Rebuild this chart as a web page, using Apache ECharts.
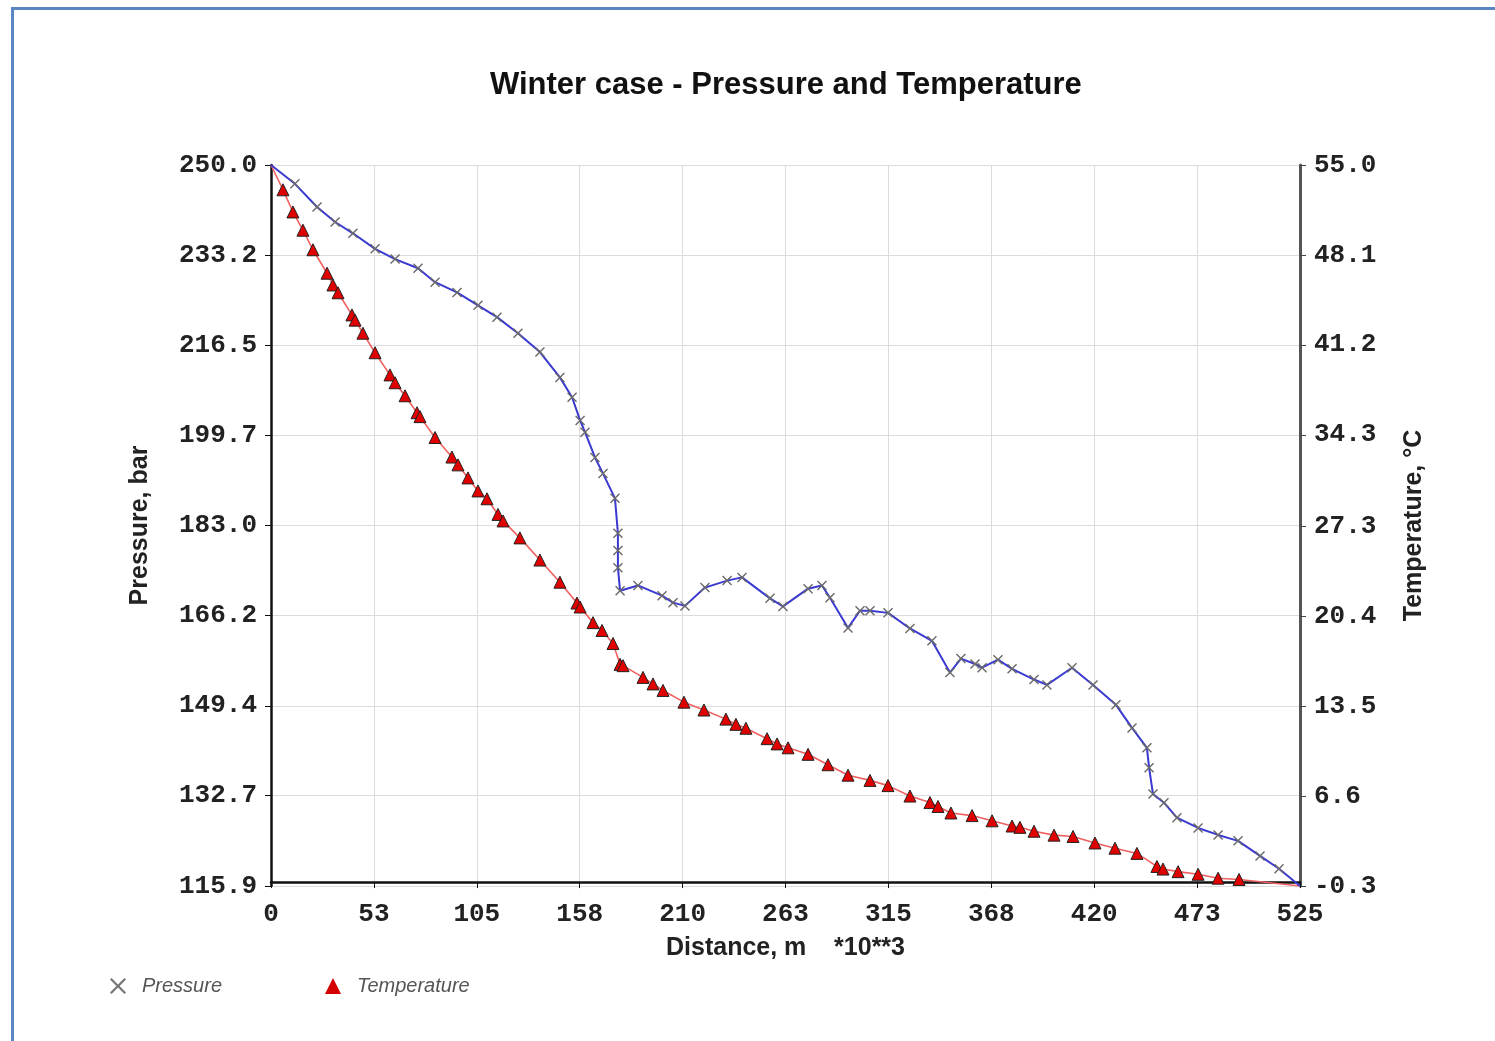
<!DOCTYPE html>
<html>
<head>
<meta charset="utf-8">
<title>Winter case - Pressure and Temperature</title>
<script src="https://cdn.jsdelivr.net/npm/echarts@6.0.0/dist/echarts.min.js"></script>
<style>
    html, body { margin: 0; padding: 0; background: #fff; overflow: hidden; }
    #chart { position: absolute; left: 0; top: 0; width: 1495px; height: 1041px; }
    #frame {
        position: absolute; left: 11px; top: 7px; width: 1600px; height: 1100px;
        border: 3px solid #5a86c4; pointer-events: none;
    }
</style>
</head>
<body>
<div id="chart"></div>
<div id="frame"></div>
<script>
// distance along the line, km (*10**3 m)
const pressureDist = [0, 12.2, 23.5, 32.7, 41.8, 53.1, 63.3, 75.0, 83.7, 94.9, 105.6, 115.3, 126.0, 137.2, 147.4,
    153.6, 157.7, 160.2, 165.3, 169.4, 175.5, 177.0, 177.0, 177.0, 178.1, 187.2, 199.5, 205.1, 211.2, 221.4,
    232.7, 240.3, 254.6, 261.2, 274.0, 281.1, 285.2, 294.4, 300.5, 305.6, 314.8, 326.0, 337.2, 346.4, 352.0,
    359.2, 362.8, 370.9, 378.1, 389.3, 395.9, 408.7, 419.4, 431.1, 439.3, 446.9, 448.0, 450.0, 455.6, 462.2,
    473.0, 483.2, 493.4, 504.6, 514.3, 525];
// pressure, bar
const pressureValues = [250, 246.5, 242.2, 239.4, 237.3, 234.4, 232.5, 230.8, 228.2, 226.3, 223.9, 221.7, 218.7, 215.2, 210.5,
    206.8, 202.5, 200.3, 195.6, 192.6, 188.0, 181.5, 178.3, 175.1, 170.8, 171.8, 169.9, 168.6, 168.0, 171.4,
    172.7, 173.3, 169.4, 167.9, 171.2, 171.8, 169.5, 163.9, 167.1, 167.1, 166.7, 163.8, 161.5, 155.6, 158.2,
    157.2, 156.5, 158.0, 156.3, 154.3, 153.3, 156.5, 153.3, 149.6, 145.3, 141.6, 137.9, 133.0, 131.4, 128.6,
    126.7, 125.4, 124.3, 121.5, 119.1, 115.9];

const tempDist = [0, 6.1, 11.2, 16.3, 21.4, 28.6, 31.6, 34.2, 41.3, 42.9, 46.9, 53.1, 60.7, 63.3, 68.4, 74.5, 76.0,
    83.7, 92.3, 95.4, 100.5, 105.6, 110.2, 115.8, 118.4, 127.0, 137.2, 147.4, 156.1, 157.7, 164.3, 168.9, 174.5,
    178.1, 179.6, 189.8, 194.9, 200.0, 210.7, 220.9, 232.1, 237.2, 242.3, 253.1, 258.2, 263.8, 274.0, 284.2,
    294.4, 305.6, 314.8, 326.0, 336.2, 340.3, 346.9, 357.7, 367.9, 378.1, 382.1, 389.3, 399.5, 409.2, 420.4,
    430.6, 441.8, 452.0, 455.1, 462.8, 473.0, 483.2, 493.9, 525];
// temperature, °C
const tempValues = [55.0, 53.1, 51.4, 50.0, 48.5, 46.7, 45.8, 45.2, 43.5, 43.1, 42.1, 40.6, 38.9, 38.3, 37.3, 36.0, 35.7,
    34.1, 32.6, 32.0, 31.0, 30.0, 29.4, 28.2, 27.7, 26.4, 24.7, 23.0, 21.4, 21.1, 19.9, 19.3, 18.3,
    16.7, 16.6, 15.7, 15.2, 14.7, 13.8, 13.2, 12.5, 12.1, 11.8, 11.0, 10.6, 10.3, 9.8, 9.0,
    8.2, 7.8, 7.4, 6.6, 6.1, 5.8, 5.3, 5.1, 4.7, 4.3, 4.2, 3.9, 3.6, 3.5, 3.0,
    2.6, 2.2, 1.2, 1.0, 0.8, 0.6, 0.3, 0.2, -0.3];

// tick values of the three axes
const distanceTicks = [0, 52.5, 105, 157.5, 210, 262.5, 315, 367.5, 420, 472.5, 525];
const pressureTicks = [115.9, 132.7, 149.4, 166.2, 183.0, 199.7, 216.5, 233.2, 250.0];
const tempTicks = [-0.3, 6.6, 13.5, 20.4, 27.3, 34.3, 41.2, 48.1, 55.0];

const crossIcon = 'path://M0,1L1,0L5,4L9,0L10,1L6,5L10,9L9,10L5,6L1,10L0,9L4,5Z';

// first and last point carry no marker
function toPoints(xs, ys) {
    return xs.map((x, i) => {
        const item = { value: [x, ys[i]] };
        if (i === 0 || i === xs.length - 1) item.symbol = 'none';
        return item;
    });
}

const tickFont = { fontFamily: 'Liberation Mono', fontWeight: 'bold', fontSize: 26, color: '#222' };
const nameFont = { fontFamily: 'Liberation Sans', fontWeight: 'bold', fontSize: 25, color: '#222' };

const chart = echarts.init(document.getElementById('chart'));
chart.setOption({
    animation: false,
    title: {
        text: 'Winter case - Pressure and Temperature',
        left: 485,
        top: 65,
        textStyle: { fontFamily: 'Liberation Sans', fontWeight: 'bold', fontSize: 31, color: '#111' }
    },
    legend: {
        left: 105,
        top: 971,
        itemWidth: 16,
        itemHeight: 16,
        itemGap: 103,
        textStyle: { fontFamily: 'Liberation Sans', fontStyle: 'italic', fontSize: 20, color: '#555', padding: [0, 0, 0, 11] },
        data: [
            { name: 'Pressure', icon: crossIcon, itemStyle: { color: '#777' } },
            { name: 'Temperature', icon: 'triangle', itemStyle: { color: '#d40000', borderWidth: 0 } }
        ]
    },
    grid: { left: 271, right: 195, top: 165, bottom: 155 },
    xAxis: {
        type: 'value',
        min: 0,
        max: 525,
        name: 'Distance, m    *10**3',
        nameLocation: 'middle',
        nameGap: 50,
        nameTextStyle: nameFont,
        axisLine: { lineStyle: { color: '#111', width: 2.5 } },
        axisTick: { customValues: distanceTicks, length: 6, lineStyle: { color: '#111' } },
        axisLabel: Object.assign({ customValues: distanceTicks, margin: 15, formatter: v => String(Math.round(v)) }, tickFont),
        splitLine: { show: true, lineStyle: { color: '#dcdcdc', width: 1 } }
    },
    yAxis: [
        {
            type: 'value',
            position: 'left',
            min: 115.9,
            max: 250,
            name: 'Pressure, bar',
            nameLocation: 'middle',
            nameRotate: 90,
            nameGap: 118,
            nameTextStyle: nameFont,
            axisLine: { show: true, lineStyle: { color: '#111', width: 2.5 } },
            axisTick: { show: true, customValues: pressureTicks, length: 6, lineStyle: { color: '#111' } },
            axisLabel: Object.assign({ customValues: pressureTicks, margin: 14, formatter: v => v.toFixed(1) }, tickFont),
            splitLine: { show: true, lineStyle: { color: '#dcdcdc', width: 1 } }
        },
        {
            type: 'value',
            position: 'right',
            min: -0.3,
            max: 55,
            name: 'Temperature, °C',
            nameLocation: 'middle',
            nameRotate: 90,
            nameGap: 102,
            nameTextStyle: nameFont,
            axisLine: { show: true, lineStyle: { color: '#555', width: 3 } },
            axisTick: { show: true, customValues: tempTicks, length: 6, lineStyle: { color: '#444' } },
            axisLabel: Object.assign({ customValues: tempTicks, margin: 14, formatter: v => v.toFixed(1) }, tickFont),
            splitLine: { show: false }
        }
    ],
    series: [
        {
            name: 'Temperature',
            type: 'line',
            yAxisIndex: 1,
            data: toPoints(tempDist, tempValues),
            symbol: 'triangle',
            symbolSize: 12,
            itemStyle: { color: '#e00000', borderColor: '#222', borderWidth: 1 },
            lineStyle: { color: '#f06060', width: 1.6 },
            z: 2
        },
        {
            name: 'Pressure',
            type: 'line',
            yAxisIndex: 0,
            data: toPoints(pressureDist, pressureValues),
            symbol: crossIcon,
            symbolSize: 10,
            itemStyle: { color: '#6a6a6a' },
            lineStyle: { color: '#3a3ad0', width: 2 },
            z: 3
        }
    ]
});
</script>
</body>
</html>
